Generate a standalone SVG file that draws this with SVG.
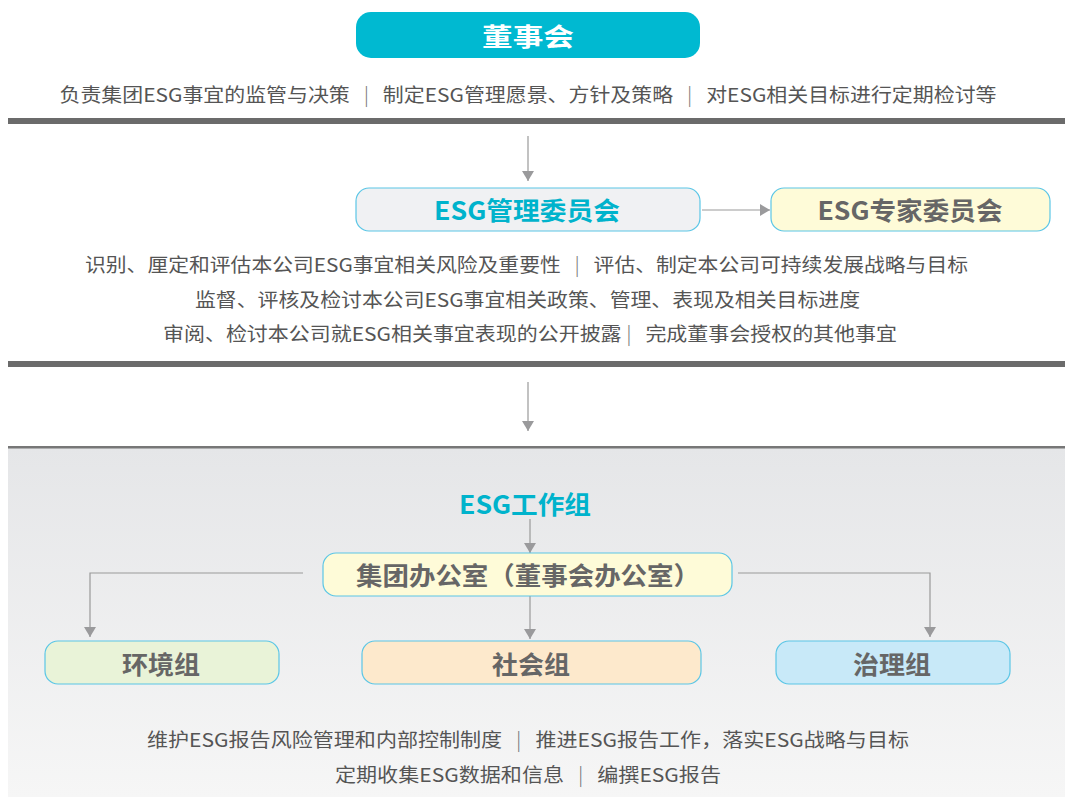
<svg xmlns="http://www.w3.org/2000/svg" width="1065" height="797" viewBox="0 0 1065 797">
<style>
.t{font-family:"Noto Sans CJK SC","Liberation Sans",sans-serif;font-size:19px;fill:#555;text-anchor:middle}
.s{fill:#777;font-weight:300}
.n{font-family:"Noto Sans CJK SC","Liberation Sans",sans-serif;font-size:25px;font-weight:bold;text-anchor:middle;dominant-baseline:central}
.box{stroke:#5bc6e6;stroke-width:1.2}
.bar{fill:#6b6b6b}
.c{fill:none;stroke:#999;stroke-width:1.2}
</style>
<defs>
<marker id="ah" markerWidth="10" markerHeight="14" refX="10" refY="7" orient="auto" markerUnits="userSpaceOnUse">
<path d="M0,1 L10,7 L0,13 Z" fill="#9a9a9c"/>
</marker>
<linearGradient id="bg" x1="0" y1="0" x2="0" y2="1">
<stop offset="0" stop-color="#e5e6e8"/>
<stop offset="1" stop-color="#f6f6f6"/>
</linearGradient>
</defs>
<rect width="1065" height="797" fill="#fff"/>
<rect x="8" y="447" width="1057" height="350" fill="url(#bg)"/>
<rect x="8" y="446" width="1057" height="2.5" fill="#777"/>
<rect class="bar" x="8" y="118" width="1057" height="6"/>
<rect class="bar" x="8" y="361" width="1057" height="6"/>

<g id="connectors">
<line class="c" x1="528" y1="136" x2="528" y2="181" marker-end="url(#ah)"/>
<line class="c" x1="702" y1="210" x2="770" y2="210" marker-end="url(#ah)"/>
<line class="c" x1="528" y1="382" x2="528" y2="431" marker-end="url(#ah)"/>
<line class="c" x1="530" y1="519" x2="530" y2="553" marker-end="url(#ah)"/>
<polyline class="c" points="303,573 90,573 90,637" marker-end="url(#ah)"/>
<polyline class="c" points="738,573 930,573 930,637" marker-end="url(#ah)"/>
<line class="c" x1="530" y1="596" x2="530" y2="639" marker-end="url(#ah)"/>
</g>

<g id="board">
<rect x="356" y="12" width="344" height="46" rx="15" fill="#00b9d1"/>
<text class="n" x="528" y="35" fill="#fff" font-size="29" textLength="92" lengthAdjust="spacingAndGlyphs">董事会</text>
</g>
<text class="t" x="528" y="102" textLength="937" lengthAdjust="spacingAndGlyphs">负责集团ESG事宜的监管与决策<tspan class="s">&#160;&#160;&#160;|&#160;&#160;&#160;</tspan>制定ESG管理愿景、方针及策略<tspan class="s">&#160;&#160;&#160;|&#160;&#160;&#160;</tspan>对ESG相关目标进行定期检讨等</text>

<g id="mgmt">
<rect class="box" x="356" y="188" width="344" height="43" rx="13" fill="#f0f1f3"/>
<text class="n" x="527" y="209" fill="#00b3cc" textLength="186" lengthAdjust="spacingAndGlyphs">ESG管理委员会</text>
</g>
<g id="expert">
<rect class="box" x="771" y="188" width="279" height="43" rx="13" fill="#fefbd8"/>
<text class="n" x="910" y="209" fill="#666" textLength="185" lengthAdjust="spacingAndGlyphs">ESG专家委员会</text>
</g>
<text class="t" x="526.5" y="272" textLength="883" lengthAdjust="spacingAndGlyphs">识别、厘定和评估本公司ESG事宜相关风险及重要性<tspan class="s">&#160;&#160;&#160;|&#160;&#160;&#160;</tspan>评估、制定本公司可持续发展战略与目标</text>
<text class="t" x="527.5" y="307" textLength="665" lengthAdjust="spacingAndGlyphs">监督、评核及检讨本公司ESG事宜相关政策、管理、表现及相关目标进度</text>
<text class="t" x="530" y="341" textLength="734" lengthAdjust="spacingAndGlyphs">审阅、检讨本公司就ESG相关事宜表现的公开披露<tspan class="s">&#160;|&#160;&#160;&#160;</tspan>完成董事会授权的其他事宜</text>

<g id="workgroup">
<text class="n" x="525" y="503" fill="#00b3cc" textLength="132" lengthAdjust="spacingAndGlyphs">ESG工作组</text>
</g>
<g id="office">
<rect class="box" x="323" y="553" width="409" height="43" rx="13" fill="#fefbd8"/>
<text class="n" x="528" y="574" fill="#666" textLength="344" lengthAdjust="spacingAndGlyphs">集团办公室（董事会办公室）</text>
</g>
<g id="env">
<rect class="box" x="45" y="641" width="234" height="43" rx="13" fill="#e9f3d8"/>
<text class="n" x="161" y="663" fill="#666" textLength="78" lengthAdjust="spacingAndGlyphs">环境组</text>
</g>
<g id="soc">
<rect class="box" x="362" y="641" width="339" height="43" rx="13" fill="#fde9cc"/>
<text class="n" x="531" y="663" fill="#666" textLength="78" lengthAdjust="spacingAndGlyphs">社会组</text>
</g>
<g id="gov">
<rect class="box" x="776" y="641" width="234" height="43" rx="13" fill="#c8e9f8"/>
<text class="n" x="892" y="663" fill="#666" textLength="78" lengthAdjust="spacingAndGlyphs">治理组</text>
</g>
<text class="t" x="528" y="747" textLength="762" lengthAdjust="spacingAndGlyphs">维护ESG报告风险管理和内部控制制度<tspan class="s">&#160;&#160;&#160;|&#160;&#160;&#160;</tspan>推进ESG报告工作，落实ESG战略与目标</text>
<text class="t" x="528" y="782" textLength="386" lengthAdjust="spacingAndGlyphs">定期收集ESG数据和信息<tspan class="s">&#160;&#160;&#160;|&#160;&#160;&#160;</tspan>编撰ESG报告</text>
</svg>
